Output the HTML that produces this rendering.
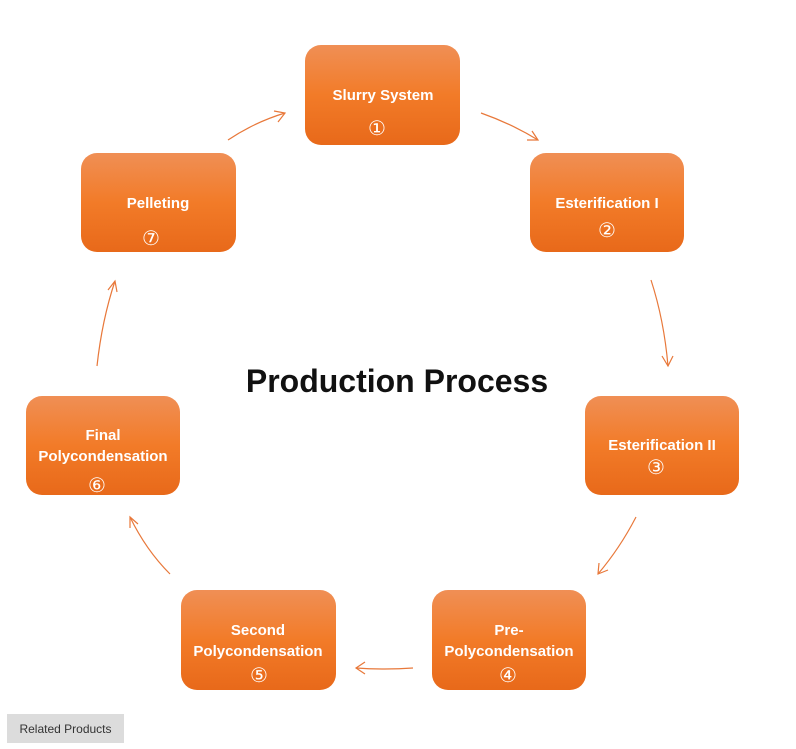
<!DOCTYPE html>
<html><head><meta charset="utf-8"><style>
html,body{margin:0;padding:0;background:#fff;width:796px;height:749px;overflow:hidden}
svg{display:block}
.t{font-family:"Liberation Sans",Arial,sans-serif;font-weight:bold;font-size:15px;fill:#fff;text-anchor:middle}
.n{font-family:"DejaVu Sans","Noto Sans CJK SC",sans-serif;font-size:20px;fill:#fff;text-anchor:middle;font-weight:normal}
.a{fill:none;stroke:#e8783a;stroke-width:1.2}
</style></head><body>
<svg width="796" height="749" viewBox="0 0 796 749" xmlns="http://www.w3.org/2000/svg">
<defs>
<linearGradient id="g" x1="0" y1="0" x2="0" y2="1">
<stop offset="0" stop-color="#f08f55"/>
<stop offset="0.5" stop-color="#f27b28"/>
<stop offset="1" stop-color="#e8691a"/>
</linearGradient>
</defs>
<rect x="305" y="45" width="155" height="100" rx="16" fill="url(#g)"/>
<rect x="530" y="153" width="154" height="99" rx="16" fill="url(#g)"/>
<rect x="585" y="396" width="154" height="99" rx="16" fill="url(#g)"/>
<rect x="432" y="590" width="154" height="100" rx="16" fill="url(#g)"/>
<rect x="181" y="590" width="155" height="100" rx="16" fill="url(#g)"/>
<rect x="26" y="396" width="154" height="99" rx="16" fill="url(#g)"/>
<rect x="81" y="153" width="155" height="99" rx="16" fill="url(#g)"/>

<text class="t" x="383" y="100">Slurry System</text>
<text class="n" x="377" y="135">①</text>
<text class="t" x="607" y="208">Esterification I</text>
<text class="n" x="607" y="237">②</text>
<text class="t" x="662" y="450">Esterification II</text>
<text class="n" x="656" y="474">③</text>
<text class="t" x="509" y="635">Pre-</text>
<text class="t" x="509" y="656">Polycondensation</text>
<text class="n" x="508" y="682">④</text>
<text class="t" x="258" y="635">Second</text>
<text class="t" x="258" y="656">Polycondensation</text>
<text class="n" x="259" y="682">⑤</text>
<text class="t" x="103" y="440">Final</text>
<text class="t" x="103" y="461">Polycondensation</text>
<text class="n" x="97" y="492">⑥</text>
<text class="t" x="158" y="208">Pelleting</text>
<text class="n" x="151" y="245">⑦</text>

<text x="397" y="392" text-anchor="middle" font-family="'Liberation Sans',Arial,sans-serif" font-weight="bold" font-size="32" fill="#111">Production Process</text>

<path class="a" d="M481 113 Q512 124 538 140"/><path class="a" d="M527 140 L538 140 L532 131"/>
<path class="a" d="M651 280 Q664 320 668 366"/><path class="a" d="M662 356 L668 366 L673 356"/>
<path class="a" d="M636 517 Q620 548 598 574"/><path class="a" d="M599 563 L598 574 L608 570"/>
<path class="a" d="M413 668 Q385 670 356 668"/><path class="a" d="M365 662 L356 668 L365 674"/>
<path class="a" d="M170 574 Q146 550 130 517"/><path class="a" d="M130 528 L130 517 L138 524"/>
<path class="a" d="M97 366 Q102 320 115 281"/><path class="a" d="M108 290 L115 281 L117 292"/>
<path class="a" d="M228 140 Q255 122 285 113"/><path class="a" d="M274 111 L285 113 L278 122"/>

<rect x="7" y="714" width="117" height="29" fill="#dcdcdc"/>
<text x="65.5" y="733" text-anchor="middle" font-family="'Liberation Sans',Arial,sans-serif" font-size="12" fill="#333">Related Products</text>
</svg>
</body></html>
